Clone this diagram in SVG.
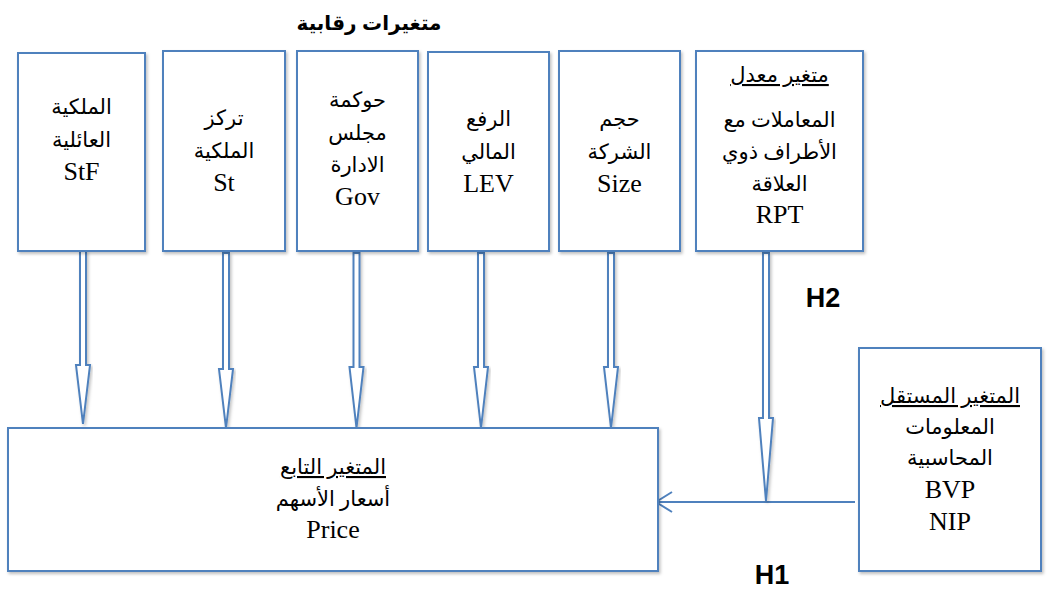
<svg xmlns="http://www.w3.org/2000/svg" width="1047" height="590" viewBox="0 0 1047 590">
<style>
.box{fill:#fff;stroke:#4F81BD;stroke-width:2;filter:url(#sh)}
.arr{fill:#fff;stroke:#4F81BD;stroke-width:2;stroke-linejoin:miter;filter:url(#sh)}
.t{font-family:"Liberation Serif","DejaVu Sans",serif;font-size:21px;fill:#000;text-anchor:middle}
.la{font-size:26px}
.u{text-decoration:underline}
.h{font-family:"Liberation Sans","DejaVu Sans",sans-serif;font-weight:bold;fill:#000;text-anchor:middle}
.ln{fill:none;stroke:#4F81BD;stroke-width:2}
</style>
<defs>
<filter id="sh" x="-10%" y="-10%" width="130%" height="130%">
<feDropShadow dx="1.5" dy="2" stdDeviation="1.5" flood-color="#000" flood-opacity="0.25"/>
</filter>
</defs>
<text class="h" x="369" y="30" font-size="20">متغيرات رقابية</text>

<g id="connectors">
<path class="arr" d="M80,251 L80,365 L76,365 L83,424 L90,365 L86,365 L86,251 Z"/>
<path class="arr" d="M223,253 L223,369 L219,369 L226,428 L233,369 L229,369 L229,253 Z"/>
<path class="arr" d="M353.5,253 L353.5,367 L349.5,367 L356.5,428 L363.5,367 L359.5,367 L359.5,253 Z"/>
<path class="arr" d="M478,253 L478,367 L474,367 L481,428 L488,367 L484,367 L484,253 Z"/>
<path class="arr" d="M608,253 L608,367 L604,367 L611,428 L618,367 L614,367 L614,253 Z"/>
<path class="ln" d="M855,502 L656,502 M672,492 L656,502 L672,512"/>
<path class="arr" d="M763,253 L763,418 L759,418 L766,501 L773,418 L769,418 L769,253 Z"/>
</g>

<g id="n-stf">
<rect class="box" x="18" y="53" width="127" height="198"/>
<text class="t" x="81.5" y="114">الملكية</text>
<text class="t" x="81.5" y="147">العائلية</text>
<text class="t la" x="81.5" y="180">StF</text>
</g>
<g id="n-st">
<rect class="box" x="163" y="51" width="122" height="200"/>
<text class="t" x="224" y="125">تركز</text>
<text class="t" x="224" y="158">الملكية</text>
<text class="t la" x="224" y="191">St</text>
</g>
<g id="n-gov">
<rect class="box" x="297" y="51" width="121" height="200"/>
<text class="t" x="357.5" y="107">حوكمة</text>
<text class="t" x="357.5" y="140">مجلس</text>
<text class="t" x="357.5" y="172">الادارة</text>
<text class="t la" x="357.5" y="205">Gov</text>
</g>
<g id="n-lev">
<rect class="box" x="428" y="52" width="121" height="199"/>
<text class="t" x="488.5" y="126">الرفع</text>
<text class="t" x="488.5" y="159">المالي</text>
<text class="t la" x="488.5" y="192">LEV</text>
</g>
<g id="n-size">
<rect class="box" x="559" y="51" width="121" height="200"/>
<text class="t" x="619.5" y="126">حجم</text>
<text class="t" x="619.5" y="159">الشركة</text>
<text class="t la" x="619.5" y="192">Size</text>
</g>
<g id="n-rpt">
<rect class="box" x="696" y="51" width="167" height="200"/>
<text class="t u" x="779.5" y="82">متغير معدل</text>
<text class="t" x="779.5" y="127">المعاملات مع</text>
<text class="t" x="779.5" y="159">الأطراف ذوي</text>
<text class="t" x="779.5" y="191">العلاقة</text>
<text class="t la" x="779.5" y="223">RPT</text>
</g>
<g id="n-bvp">
<rect class="box" x="859" y="348" width="182" height="223"/>
<text class="t u" x="950" y="403">المتغير المستقل</text>
<text class="t" x="950" y="434">المعلومات</text>
<text class="t" x="950" y="465">المحاسبية</text>
<text class="t la" x="950" y="498">BVP</text>
<text class="t la" x="950" y="530">NIP</text>
</g>
<g id="n-price">
<rect class="box" x="8" y="428" width="650" height="143"/>
<text class="t u" x="333" y="474">المتغير التابع</text>
<text class="t" x="333" y="506">أسعار الأسهم</text>
<text class="t la" x="333" y="538">Price</text>
</g>
<text class="h" x="823" y="307" font-size="27">H2</text>
<text class="h" x="772" y="584" font-size="27">H1</text>
</svg>
